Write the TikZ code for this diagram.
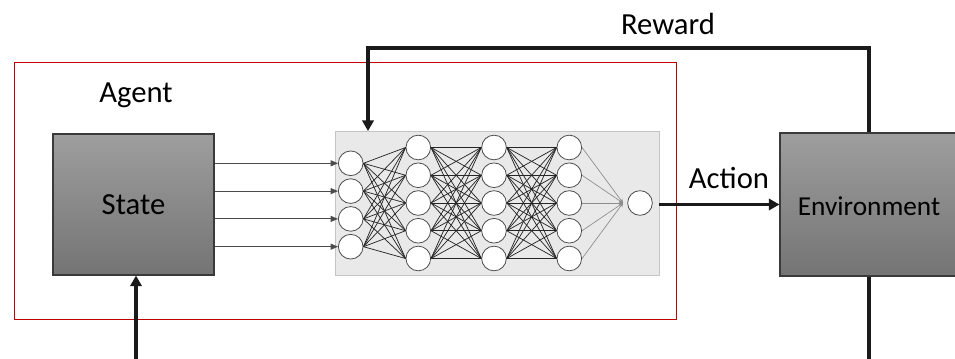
\documentclass[tikz,border=0pt]{standalone}
\usepackage{fontspec}
\setmainfont{Carlito}
\usetikzlibrary{arrows.meta}
\definecolor{boxtop}{HTML}{9E9E9E}
\definecolor{boxbot}{HTML}{747474}
\definecolor{boxedge}{HTML}{3A3A3A}
\definecolor{agentred}{HTML}{C00000}
\definecolor{nnbg}{HTML}{E9E9E9}
\definecolor{nnedge}{HTML}{C4C4C4}
\definecolor{flow}{HTML}{1A1A1A}
\begin{document}
\begin{tikzpicture}[x=0.75pt,y=-0.75pt,
  lbl/.style={font=\fontsize{23}{27}\selectfont, inner sep=0pt},
  graybox/.style={draw=boxedge, line width=0.8pt, top color=boxtop, bottom color=boxbot, inner sep=0pt},
  neuron/.style={circle, draw=black!70, fill=white, line width=0.6pt, minimum size=18.5pt, inner sep=0pt},
  flowarrow/.style={draw=flow, line width=2.3pt, -{Triangle[length=8pt,width=8.5pt]}},
  inarrow/.style={draw=black!70, line width=0.8pt, -{Triangle[length=5.5pt,width=4.5pt]}},
  link/.style={draw=black!85, line width=0.55pt},
  outlink/.style={draw=black!45, line width=0.5pt, -{Stealth[length=3pt,width=3pt]}}
]
\useasboundingbox (0,0) rectangle (955,359);

% agent frame
\draw[agentred, line width=1.4pt] (14.5,62.5) rectangle (676.5,319.5);
\node[lbl] (agent) at (136,95) {Agent};

% state box
\node[graybox, minimum width=120.75pt, minimum height=105.75pt] (state) at (133.5,204.5) {};
\node[lbl] at (state.center) {State};

% network background
\node[draw=nnedge, fill=nnbg, line width=0.6pt, minimum width=243pt, minimum height=108pt, inner sep=0pt] (nnbg) at (497,203.5) {};

% environment box
\node[graybox, minimum width=133.5pt, minimum height=107.25pt] (env) at (869,204.5) {};
\node[font=\fontsize{20.5}{24}\selectfont, inner sep=0pt] at (869,206) {Environment};

% neurons
\foreach \i/\y in {1/163.3,2/191.1,3/218.9,4/246.7}
  \node[neuron] (a\i) at (350.7,\y) {};
\foreach \L/\x in {b/418.3,c/494,d/569.3}
  \foreach \i/\y in {1/147.5,2/175.25,3/203,4/230.75,5/258.5}
    \node[neuron] (\L\i) at (\x,\y) {};
\node[neuron] (out) at (640,203) {};
\coordinate (conv) at (623,203);

% connections
\foreach \i in {1,...,4}
  \foreach \j in {1,...,5}
    \draw[link] (a\i.east) -- (b\j.west);
\foreach \i in {1,...,5}
  \foreach \j in {1,...,5}{
    \draw[link] (b\i.east) -- (c\j.west);
    \draw[link] (c\i.east) -- (d\j.west);
  }
\foreach \i in {1,...,5}
  \draw[outlink] (d\i.east) -- (conv);

% state to inputs
\foreach \i in {1,...,4}
  \draw[inarrow] (state.east |- a\i) -- (a\i.west);

% action
\draw[flowarrow] (nnbg.east |- env.west) -- (env.west);
\node[lbl] (action) at (729,178) {Action};

% reward loop
\coordinate (rtop) at (368,48);
\draw[flowarrow] (env.north) |- (rtop) -- (rtop |- nnbg.north);
\node[lbl] (reward) at (668,24) {Reward};

% state feedback loop
\coordinate (bl) at (136,368);
\draw[flowarrow] (env.south) |- (bl) -- (bl |- state.south);
\end{tikzpicture}
\end{document}
